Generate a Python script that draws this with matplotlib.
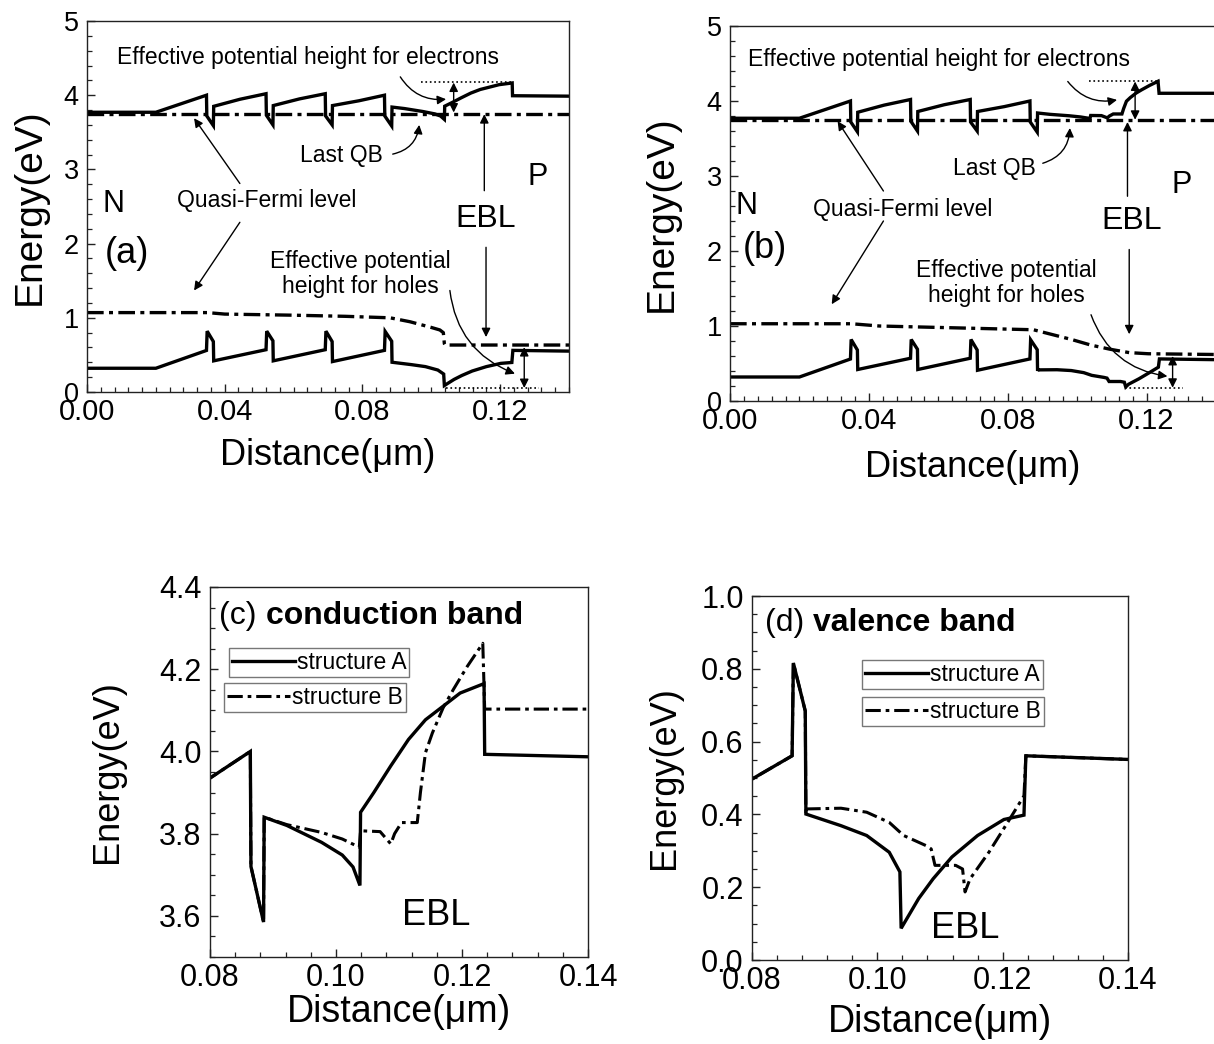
import matplotlib
matplotlib.use("Agg")
import matplotlib.pyplot as plt
from matplotlib.ticker import MultipleLocator, FormatStrFormatter
from matplotlib.lines import Line2D

plt.rcParams['font.family'] = ['Liberation Sans', 'DejaVu Sans']

# ---- data (distance in um, energy in eV) ----
# multi quantum well region, same for both structures
mqw_cb_x = [0.000, 0.020, 0.0347, 0.0348, 0.0367, 0.0368, 0.0444, 0.0520, 0.0521,
            0.0540, 0.0541, 0.0617, 0.0692, 0.0693, 0.0712, 0.0713, 0.0790, 0.0864,
            0.0865, 0.0885, 0.0886]
mqw_cb_y = [3.77, 3.77, 4.00, 3.72, 3.59, 3.85, 3.945, 4.02, 3.73,
            3.60, 3.86, 3.95, 4.02, 3.72, 3.60, 3.86, 3.925, 4.00,
            3.72, 3.585, 3.84]
mqw_vb_x = [0.000, 0.020, 0.0347, 0.0349, 0.0367, 0.0368, 0.0520, 0.0522, 0.0540,
            0.0541, 0.0692, 0.0694, 0.0712, 0.0713, 0.0864, 0.0866, 0.0885, 0.0886]
mqw_vb_y = [0.32, 0.32, 0.56, 0.82, 0.68, 0.42, 0.57, 0.82, 0.69,
            0.42, 0.57, 0.82, 0.68, 0.41, 0.561, 0.816, 0.684, 0.401]

# structure A: last barrier + EBL + p-region
a_cb_tail_x = [0.0922, 0.0977, 0.1010, 0.1027, 0.1038, 0.1039, 0.1060, 0.1087, 0.1115,
               0.1142, 0.1170, 0.1197, 0.1235, 0.1236, 0.1400]
a_cb_tail_y = [3.82, 3.779, 3.748, 3.719, 3.674, 3.852, 3.90, 3.965, 4.029,
               4.077, 4.11, 4.142, 4.165, 3.993, 3.987]
a_vb_tail_x = [0.0942, 0.0983, 0.1019, 0.1036, 0.1038, 0.1066, 0.1089, 0.1119, 0.1160,
               0.1202, 0.1234, 0.1237, 0.1400]
a_vb_tail_y = [0.369, 0.342, 0.296, 0.242, 0.087, 0.169, 0.223, 0.283, 0.342,
               0.386, 0.398, 0.561, 0.551]

# structure B
b_cb_tail_x = [0.0922, 0.0977, 0.1010, 0.1037, 0.1039, 0.1070, 0.1087, 0.1093, 0.1104,
               0.1129, 0.1134, 0.1142, 0.1153, 0.1170, 0.1186, 0.1208, 0.1233, 0.1236,
               0.1400]
b_cb_tail_y = [3.822, 3.803, 3.787, 3.767, 3.807, 3.805, 3.775, 3.80, 3.827,
               3.827, 3.90, 3.997, 4.045, 4.106, 4.15, 4.206, 4.263, 4.103,
               4.103]
b_vb_tail_x = [0.0887, 0.0942, 0.0983, 0.1019, 0.1042, 0.1078, 0.1086, 0.1092, 0.1125,
               0.1136, 0.1140, 0.1148, 0.1178, 0.1208, 0.1234, 0.1237, 0.1400]
b_vb_tail_y = [0.415, 0.417, 0.406, 0.378, 0.342, 0.314, 0.305, 0.26, 0.26,
               0.25, 0.187, 0.223, 0.296, 0.378, 0.451, 0.561, 0.551]

a_cb_x = mqw_cb_x + a_cb_tail_x
a_cb_y = mqw_cb_y + a_cb_tail_y
a_vb_x = mqw_vb_x + a_vb_tail_x
a_vb_y = mqw_vb_y + a_vb_tail_y
b_cb_x = mqw_cb_x + b_cb_tail_x
b_cb_y = mqw_cb_y + b_cb_tail_y
b_vb_x = mqw_vb_x + b_vb_tail_x
b_vb_y = mqw_vb_y + b_vb_tail_y

# quasi-Fermi levels
efn_x = [0.0, 0.14]
efn_y = [3.75, 3.75]
a_efp_x = [0.0, 0.035, 0.040, 0.060, 0.075, 0.088, 0.0938, 0.100, 0.1025, 0.1035, 0.1038, 0.1040, 0.14]
a_efp_y = [1.07, 1.07, 1.05, 1.035, 1.02, 1.00, 0.947, 0.87, 0.836, 0.80, 0.65, 0.633, 0.633]
b_efp_x = [0.0, 0.035, 0.043, 0.0874, 0.0929, 0.0984, 0.104, 0.1095, 0.115, 0.1205, 0.14]
b_efp_y = [1.03, 1.03, 1.00, 0.95, 0.885, 0.82, 0.745, 0.69, 0.645, 0.63, 0.62]

x_ticks_top = [0.00, 0.04, 0.08, 0.12]
x_ticks_bottom = [0.08, 0.10, 0.12, 0.14]

# ---- figure ----
W, H = 1214, 1044
fig = plt.figure(figsize=(W / 100, H / 100), dpi=100)


def add_ax(left, right, top, bottom):
    return fig.add_axes([left / W, 1 - bottom / H, (right - left) / W, (bottom - top) / H])


DD = (0, (5, 1.6, 1.2, 1.6))
LW = 2.4


def style(ax, xticks, xminor, yticks, yminor, xfmt, yfmt, xls, yls):
    ax.set_xticks(xticks)
    ax.set_yticks(yticks)
    ax.xaxis.set_minor_locator(MultipleLocator(xminor))
    ax.yaxis.set_minor_locator(MultipleLocator(yminor))
    ax.xaxis.set_major_formatter(FormatStrFormatter(xfmt))
    ax.yaxis.set_major_formatter(FormatStrFormatter(yfmt))
    ax.tick_params(which='both', direction='in', top=False, right=False, color='#222')
    ax.tick_params(which='major', length=6, width=1.0)
    ax.tick_params(which='minor', length=3.5, width=0.9)
    ax.tick_params(axis='x', labelsize=xls, pad=4)
    ax.tick_params(axis='y', labelsize=yls, pad=6)
    for s in ax.spines.values():
        s.set_linewidth(1.0)
        s.set_color('#222')


def arrow(ax, start, end, style='-|>', rad=0.0, lw=1.0):
    ax.annotate('', xy=end, xytext=start,
                arrowprops=dict(arrowstyle=style, color='k', lw=lw, mutation_scale=13,
                                shrinkA=0, shrinkB=0,
                                connectionstyle='arc3,rad=%s' % rad))


def band_panel(ax, cb_x, cb_y, vb_x, vb_y, efp_x, efp_y):
    ax.plot(cb_x, cb_y, color='k', lw=LW, solid_joinstyle='miter')
    ax.plot(vb_x, vb_y, color='k', lw=LW, solid_joinstyle='miter')
    ax.plot(efn_x, efn_y, color='k', lw=LW, ls=DD)
    ax.plot(efp_x, efp_y, color='k', lw=LW, ls=DD)
    ax.set_xlim(0, 0.14)
    ax.set_ylim(0, 5)
    style(ax, x_ticks_top, 0.004, [0, 1, 2, 3, 4, 5], 0.2, '%.2f', '%d', 21, 19.5)
    ax.set_xlabel('Distance(\u03bcm)', fontsize=26)
    ax.set_ylabel('Energy(eV)', fontsize=28)


fs_note = 16.5

# (a)
ax_a = add_ax(87, 569, 21, 392)
band_panel(ax_a, a_cb_x, a_cb_y, a_vb_x, a_vb_y, a_efp_x, a_efp_y)
ax_a.xaxis.set_label_coords(0.5, -0.125)
ax_a.yaxis.set_label_coords(-0.081, 0.5)
ax_a.text(0.0643, 4.507, 'Effective potential height for electrons', fontsize=fs_note, ha='center', va='center')
arrow(ax_a, (0.091, 4.247), (0.1043, 3.946), rad=0.3)
ax_a.plot([0.0971, 0.1237], [4.184, 4.184], color='k', lw=1.2, ls=':')
arrow(ax_a, (0.1065, 3.767), (0.1065, 4.17), style='<|-|>')
ax_a.text(0.0738, 3.184, 'Last QB', fontsize=fs_note, ha='center', va='center')
arrow(ax_a, (0.0888, 3.206), (0.0965, 3.60), rad=0.35)
ax_a.text(0.0521, 2.578, 'Quasi-Fermi level', fontsize=fs_note, ha='center', va='center')
arrow(ax_a, (0.0444, 2.81), (0.0311, 3.69))
arrow(ax_a, (0.0444, 2.287), (0.0311, 1.368))
ax_a.text(0.0078, 2.534, 'N', fontsize=22, ha='center', va='center')
ax_a.text(0.0116, 1.861, '(a)', fontsize=26, ha='center', va='center')
ax_a.text(0.1309, 2.892, 'P', fontsize=22, ha='center', va='center')
ax_a.text(0.1159, 2.332, 'EBL', fontsize=23, ha='center', va='center')
arrow(ax_a, (0.1154, 2.713), (0.1154, 3.744))
arrow(ax_a, (0.1159, 1.95), (0.1159, 0.74))
ax_a.text(0.0793, 1.59, 'Effective potential\nheight for holes', fontsize=fs_note,
          ha='center', va='center', linespacing=1.15)
arrow(ax_a, (0.1054, 1.368), (0.1243, 0.247), rad=0.3)
ax_a.plot([0.1043, 0.1314], [0.054, 0.054], color='k', lw=1.2, ls=':')
arrow(ax_a, (0.127, 0.054), (0.127, 0.605), style='<|-|>')

# (b)
ax_b = add_ax(730, 1216, 26, 401)
band_panel(ax_b, b_cb_x, b_cb_y, b_vb_x, b_vb_y, b_efp_x, b_efp_y)
ax_b.spines['right'].set_visible(False)
ax_b.xaxis.set_label_coords(0.5, -0.13)
ax_b.yaxis.set_label_coords(-0.103, 0.5)
ax_b.text(0.0603, 4.556, 'Effective potential height for electrons', fontsize=fs_note, ha='center', va='center')
arrow(ax_b, (0.0973, 4.26), (0.1115, 4.015), rad=0.3)
ax_b.plot([0.1034, 0.1239], [4.27, 4.27], color='k', lw=1.2, ls=':')
arrow(ax_b, (0.1167, 3.75), (0.1167, 4.26), style='<|-|>')
ax_b.text(0.0763, 3.106, 'Last QB', fontsize=fs_note, ha='center', va='center')
arrow(ax_b, (0.0901, 3.17), (0.0979, 3.64), rad=0.35)
ax_b.text(0.0498, 2.55, 'Quasi-Fermi level', fontsize=fs_note, ha='center', va='center')
arrow(ax_b, (0.0442, 2.80), (0.031, 3.73))
arrow(ax_b, (0.0442, 2.40), (0.0293, 1.29))
ax_b.text(0.0016, 2.6, 'N', fontsize=22, ha='left', va='center')
ax_b.text(0.010, 2.04, '(b)', fontsize=26, ha='center', va='center')
ax_b.text(0.130, 2.88, 'P', fontsize=22, ha='center', va='center')
ax_b.text(0.1156, 2.40, 'EBL', fontsize=23, ha='center', va='center')
arrow(ax_b, (0.1145, 2.73), (0.1145, 3.72))
arrow(ax_b, (0.115, 2.02), (0.115, 0.89))
ax_b.text(0.0796, 1.575, 'Effective potential\nheight for holes', fontsize=fs_note,
          ha='center', va='center', linespacing=1.15)
arrow(ax_b, (0.104, 1.15), (0.126, 0.33), rad=0.3)
ax_b.plot([0.1139, 0.1305], [0.177, 0.177], color='k', lw=1.2, ls=':')
arrow(ax_b, (0.1275, 0.177), (0.1275, 0.60), style='<|-|>')


def zoom_panel(ax, ya_x, ya_y, yb_x, yb_y):
    ax.plot(yb_x, yb_y, color='k', lw=2.2, ls=DD)
    ax.plot(ya_x, ya_y, color='k', lw=2.4, solid_joinstyle='miter')
    ax.set_xlim(0.08, 0.14)
    ax.set_xlabel('Distance(\u03bcm)', fontsize=27)
    ax.set_ylabel('Energy(eV)', fontsize=26)


def legends(ax, posA, posB):
    hA = Line2D([], [], color='k', lw=2.4)
    hB = Line2D([], [], color='k', lw=2.2, ls=DD)
    common = dict(loc='upper left', frameon=True, fancybox=False, edgecolor='#777',
                  fontsize=16.5, borderpad=0.12, handletextpad=0.1, borderaxespad=0,
                  framealpha=1, shadow=False, handlelength=2.75)
    legA = ax.legend([hA], ['structure A'], bbox_to_anchor=posA, **common)
    legA.get_frame().set_linewidth(1.0)
    ax.add_artist(legA)
    legB = ax.legend([hB], ['structure B'], bbox_to_anchor=posB, **common)
    legB.get_frame().set_linewidth(1.0)


# (c) conduction band
ax_c = add_ax(210, 588, 587, 957)
zoom_panel(ax_c, a_cb_x, a_cb_y, b_cb_x, b_cb_y)
ax_c.set_ylim(3.5, 4.4)
style(ax_c, x_ticks_bottom, 0.004, [3.6, 3.8, 4.0, 4.2, 4.4], 0.05, '%.2f', '%.1f', 22, 22)
ax_c.xaxis.set_label_coords(0.5, -0.1)
ax_c.yaxis.set_label_coords(-0.225, 0.5)
tc = ax_c.text(0.0815, 4.33, '(c) ', fontsize=23, ha='left', va='center')
ax_c.annotate('conduction band', xy=(1, 0), xycoords=tc, fontsize=23, fontweight='bold',
              ha='left', va='bottom')
ax_c.text(0.1159, 3.60, 'EBL', fontsize=26, ha='center', va='center')
legends(ax_c, (0.05, 0.835), (0.037, 0.74))

# (d) valence band
ax_d = add_ax(752, 1128, 596, 960)
zoom_panel(ax_d, a_vb_x, a_vb_y, b_vb_x, b_vb_y)
ax_d.set_ylim(0.0, 1.0)
style(ax_d, x_ticks_bottom, 0.004, [0.0, 0.2, 0.4, 0.6, 0.8, 1.0], 0.05, '%.2f', '%.1f', 22, 22)
ax_d.xaxis.set_label_coords(0.5, -0.12)
ax_d.yaxis.set_label_coords(-0.186, 0.5)
td = ax_d.text(0.0821, 0.927, '(d) ', fontsize=23, ha='left', va='center')
ax_d.annotate('valence band', xy=(1, 0), xycoords=td, fontsize=23, fontweight='bold',
              ha='left', va='bottom')
ax_d.text(0.114, 0.087, 'EBL', fontsize=26, ha='center', va='center')
legends(ax_d, (0.293, 0.824), (0.293, 0.722))

fig.savefig('out.png', dpi=100)
